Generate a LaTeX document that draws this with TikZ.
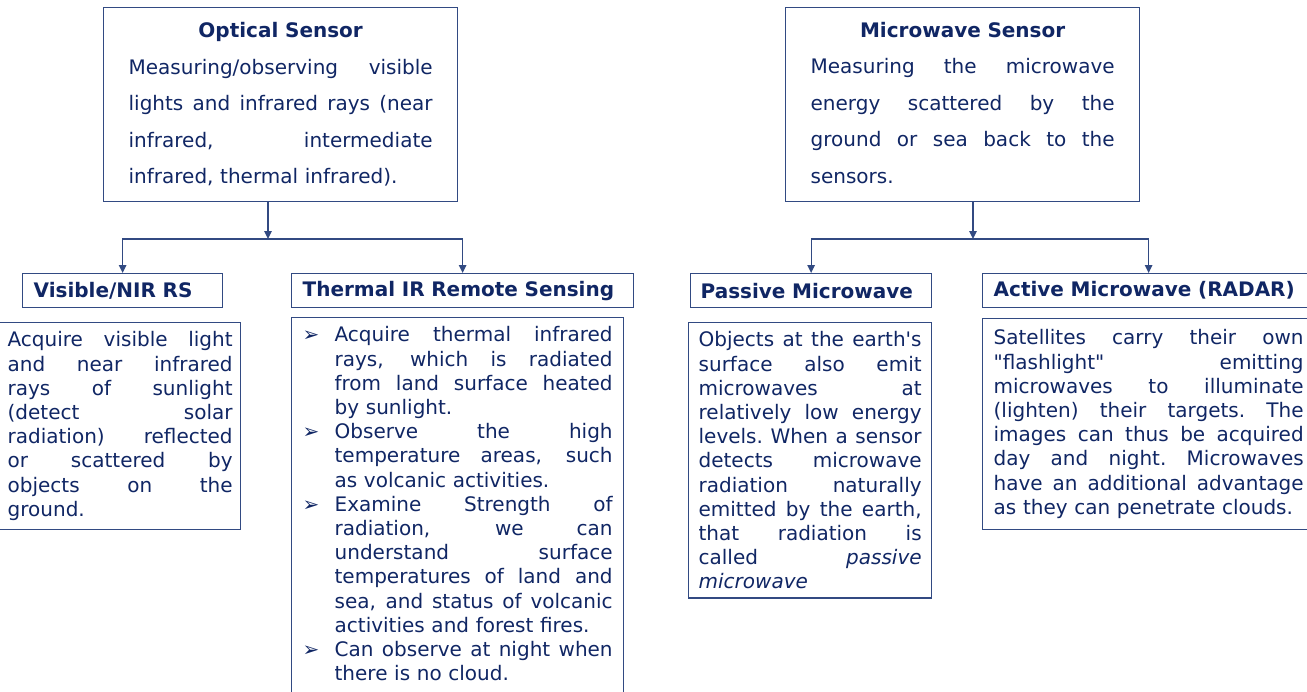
\documentclass[tikz,border=0pt]{standalone}
\usepackage{fontspec}
\setmainfont{DejaVu Sans}[Ligatures=TeXOff]
\usetikzlibrary{positioning, arrows.meta}
\definecolor{navytext}{RGB}{16,38,100}
\definecolor{navyline}{RGB}{50,74,130}
\setlength{\parindent}{0pt}
% one justified line, one bullet line, one indented line
\newcommand{\fillspaces}{\spaceskip=.3em plus 1fil\xspaceskip=\spaceskip\relax}
\newcommand{\jline}[1]{\makebox[\linewidth][s]{\fillspaces #1}\\}
\newcommand{\bline}[1]{\makebox[32pt][l]{\bfseries ➢}\makebox[\dimexpr\linewidth-32pt\relax][s]{\fillspaces #1}\\}
\newcommand{\iline}[1]{\hspace*{32pt}\makebox[\dimexpr\linewidth-32pt\relax][s]{\fillspaces #1}\\}
\tikzset{
	sensor/.style={draw=navyline, line width=1.3pt, text=navytext, anchor=north west, minimum width=354pt, minimum height=194pt, text width=304pt, align=left, font=\fontsize{20}{36.5}\selectfont},
	kind/.style={draw=navyline, line width=1.3pt, text=navytext, anchor=north west, minimum height=34pt, inner xsep=11pt, align=left, font=\fontsize{20}{24.2}\selectfont\bfseries},
	info/.style={draw=navyline, line width=1.3pt, text=navytext, anchor=north west, inner xsep=11pt, inner ysep=9pt, align=left, font=\fontsize{20}{24.2}\selectfont},
}

\begin{document}
\begin{tikzpicture}[x=1pt, y=-1pt]
	\useasboundingbox (0,0) rectangle (1307,691);
	
	% top boxes
	\node (opt) [sensor] at (103,7) {\makebox[\linewidth][c]{\bfseries Optical Sensor}\\
		\jline{Measuring/observing visible}
		\jline{lights and infrared rays (near}
		\jline{infrared, intermediate}
		infrared, thermal infrared).};
	\node (mw) [sensor] at (785,7) {\makebox[\linewidth][c]{\bfseries Microwave Sensor}\\
		\jline{Measuring the microwave}
		\jline{energy scattered by the}
		\jline{ground or sea back to the}
		sensors.\vphantom{y)}};
	
	% second row
	\node (vis) [kind, text width=178pt] at (22,273) {Visible/NIR RS};
	\node (thr) [kind, text width=320pt] at (291,273) {Thermal IR Remote Sensing};
	\node (pas) [kind, text width=221pt, inner xsep=10pt] at (690,273) {Passive Microwave};
	\node (act) [kind, text width=310pt] at (982,273) {Active Microwave (RADAR)};
	
	% text boxes
	\node (vistxt) [info, text width=225pt, inner xsep=8pt] at (-1,322) {\jline{Acquire visible light}
		\jline{and near infrared}
		\jline{rays of sunlight}
		\jline{(detect solar}
		\jline{radiation) reflected}
		\jline{or scattered by}
		\jline{objects on the}
		ground.};
	\node (thrtxt) [info, text width=310pt] at (291,317) {\bline{Acquire thermal infrared}
		\iline{rays, which is radiated}
		\iline{from land surface heated}
		\hspace*{32pt}by sunlight.\\
		\bline{Observe the high}
		\iline{temperature areas, such}
		\hspace*{32pt}as volcanic activities.\\
		\bline{Examine Strength of}
		\iline{radiation, we can}
		\iline{understand surface}
		\iline{temperatures of land and}
		\iline{sea, and status of volcanic}
		\hspace*{32pt}activities and forest fires.\\
		\bline{Can observe at night when}
		\hspace*{32pt}there is no cloud.\rule[-16pt]{0pt}{16pt}};
	\node (pastxt) [info, text width=223pt, inner xsep=10pt] at (688,322) {\jline{Objects at the earth's}
		\jline{surface also emit}
		\jline{microwaves at}
		\jline{relatively low energy}
		\jline{levels. When a sensor}
		\jline{detects microwave}
		\jline{radiation naturally}
		\jline{emitted by the earth,}
		\jline{that radiation is}
		\jline{called \textit{passive}}
		\textit{microwave}};
	\node (acttxt) [info, text width=310pt, inner ysep=11pt] at (982,318) {\jline{Satellites carry their own}
		\jline{"flashlight" emitting}
		\jline{microwaves to illuminate}
		\jline{(lighten) their targets. The}
		\jline{images can thus be acquired}
		\jline{day and night. Microwaves}
		\jline{have an additional advantage}
		as they can penetrate clouds.};
	
	\coordinate (optj) at (268,239);
	\coordinate (mwj) at (973,239);
	
	\begin{scope}[navyline, line width=1.3pt, ->, >={Triangle[length=8pt, width=7.5pt]}]
		\draw (opt.south -| optj) -- (optj);
		\draw (optj) -| (vis.north);
		\draw (optj) -| (thr.north);
		
		\draw (mw.south -| mwj) -- (mwj);
		\draw (mwj) -| (pas.north);
		\draw (mwj) -| (act.north);
	\end{scope}
	
\end{tikzpicture}
\end{document}
